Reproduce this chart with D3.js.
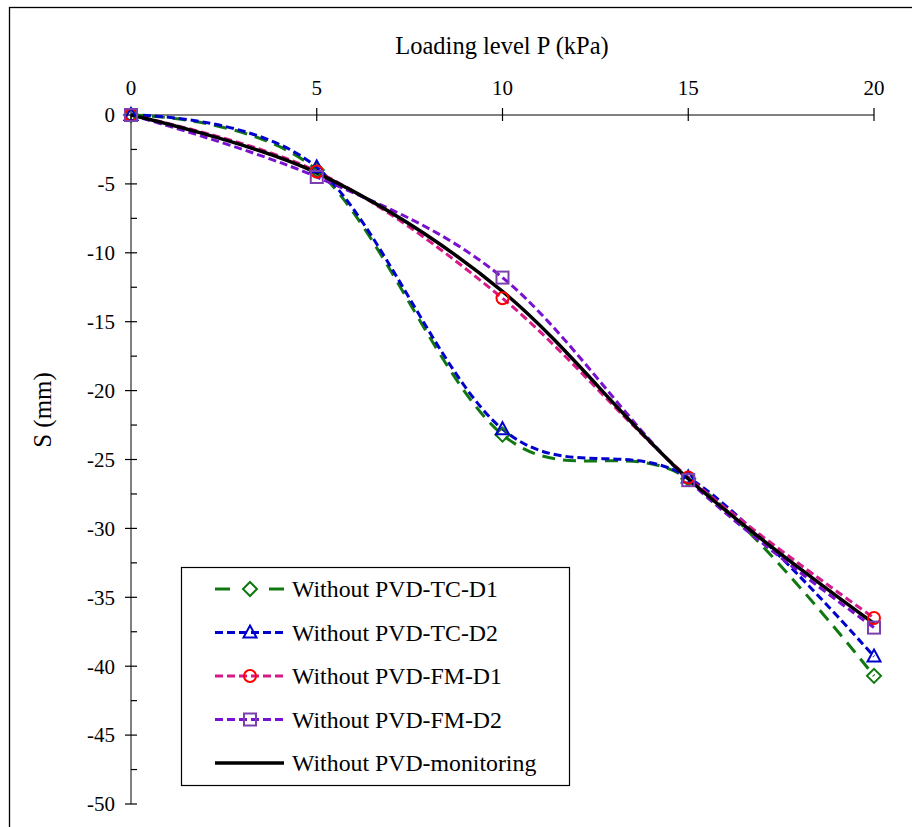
<!DOCTYPE html>
<html>
<head>
<meta charset="utf-8">
<script src="https://cdn.jsdelivr.net/npm/d3@7"></script>
<style>
  html, body { margin: 0; padding: 0; background: #fff; }
</style>
</head>
<body>
<div id="chart"></div>
<script>
// Loading level P (kPa) vs settlement S (mm)
var loads = [0, 5, 10, 15, 20];
var tcD1 = [0, -4.0, -23.2, -26.4, -40.7];
var tcD2 = [0, -3.8, -22.8, -26.3, -39.3];
var fmD1 = [0, -4.1, -13.3, -26.3, -36.5];
var fmD2 = [0, -4.5, -11.8, -26.5, -37.2];
var monitoring = [0, -4.2, -12.8, -26.4, -36.9];
var seriesNames = ["Without PVD-TC-D1", "Without PVD-TC-D2", "Without PVD-FM-D1",
                   "Without PVD-FM-D2", "Without PVD-monitoring"];
var xTicks = [0, 5, 10, 15, 20];
var yTicks = [0, -5, -10, -15, -20, -25, -30, -35, -40, -45, -50];

var FONT = "'Liberation Serif', Tinos, 'Times New Roman', Times, 'DejaVu Serif', 'Noto Serif', serif";

var W = 912, H = 827;
var svg = d3.select("#chart").append("svg").attr("width", W).attr("height", H)
    .style("font-family", FONT);

// outer frame
svg.append("rect").attr("x", 9.5).attr("y", 7.5).attr("width", 1000).attr("height", 1000)
    .attr("fill", "none").attr("stroke", "#000").attr("stroke-width", 1.3);

var x = d3.scaleLinear().domain([0, 20]).range([131, 874]);
var y = d3.scaleLinear().domain([0, -50]).range([115, 804]);

// y axis (gray line, black ticks)
var gy = svg.append("g").attr("transform", "translate(" + x(0) + ",0)");
gy.append("line").attr("y1", y(0)).attr("y2", y(-50)).attr("stroke", "#808080").attr("stroke-width", 2);
yTicks.forEach(function (t) {
    gy.append("line").attr("x1", -6).attr("x2", 6).attr("y1", y(t)).attr("y2", y(t))
        .attr("stroke", "#000").attr("stroke-width", 1.2);
    gy.append("text").attr("x", -16).attr("y", y(t)).attr("dy", "0.35em")
        .attr("text-anchor", "end").style("font-family", FONT).attr("font-size", 21).text(t);
    if (t > -50) {
        var m = t - 2.5;
        gy.append("line").attr("x1", 0).attr("x2", 6).attr("y1", y(m)).attr("y2", y(m))
            .attr("stroke", "#000").attr("stroke-width", 1.2);
    }
});

// x axis on top
var gx = svg.append("g").attr("transform", "translate(0," + y(0) + ")");
gx.append("line").attr("x1", x(0)).attr("x2", x(20)).attr("stroke", "#808080").attr("stroke-width", 2);
xTicks.forEach(function (t) {
    gx.append("line").attr("x1", x(t)).attr("x2", x(t)).attr("y1", -7).attr("y2", 6)
        .attr("stroke", "#000").attr("stroke-width", 1.2);
    gx.append("text").attr("x", x(t)).attr("y", -20).attr("text-anchor", "middle")
        .style("font-family", FONT).attr("font-size", 21).text(t);
});

svg.append("text").attr("x", 502).attr("y", 54).attr("text-anchor", "middle")
    .style("font-family", FONT).attr("font-size", 24.5).text("Loading level P (kPa)");
svg.append("text").attr("transform", "translate(51,410) rotate(-90)").attr("text-anchor", "middle")
    .style("font-family", FONT).attr("font-size", 25).text("S (mm)");

// series styles
var styles = [
    { vals: tcD1, line: "#117811", dash: "13,8", marker: "diamond", mcol: "#117811" },
    { vals: tcD2, line: "#0000cc", dash: "8,4", marker: "triangle", mcol: "#0000cc" },
    { vals: fmD1, line: "#d8198a", dash: "8,4", marker: "circle", mcol: "#ff0000" },
    { vals: fmD2, line: "#7a10d0", dash: "8,4", marker: "square", mcol: "#7b3fb0" },
    { vals: monitoring, line: "#000", dash: null, marker: null, mcol: null }
];

var line = d3.line()
    .x(function (d) { return x(d[0]); })
    .y(function (d) { return y(d[1]); })
    .curve(d3.curveCatmullRom.alpha(0));

function drawMarker(g, type, cx, cy, col) {
    if (type === "diamond") {
        g.append("path").attr("d", "M" + cx + "," + (cy - 7) + "L" + (cx + 7) + "," + cy +
            "L" + cx + "," + (cy + 7) + "L" + (cx - 7) + "," + cy + "Z")
            .attr("fill", "none").attr("stroke", col).attr("stroke-width", 2);
    } else if (type === "triangle") {
        g.append("path").attr("d", "M" + cx + "," + (cy - 7) + "L" + (cx + 6.5) + "," + (cy + 5) +
            "L" + (cx - 6.5) + "," + (cy + 5) + "Z")
            .attr("fill", "none").attr("stroke", col).attr("stroke-width", 2);
    } else if (type === "circle") {
        g.append("circle").attr("cx", cx).attr("cy", cy).attr("r", 6)
            .attr("fill", "none").attr("stroke", col).attr("stroke-width", 2);
    } else if (type === "square") {
        g.append("rect").attr("x", cx - 6).attr("y", cy - 6).attr("width", 12).attr("height", 12)
            .attr("fill", "none").attr("stroke", col).attr("stroke-width", 2);
    }
}

var plot = svg.append("g");
styles.forEach(function (s) {
    var pts = loads.map(function (l, i) { return [l, s.vals[i]]; });
    plot.append("path").datum(pts).attr("d", line)
        .attr("fill", "none").attr("stroke", s.line)
        .attr("stroke-width", s.dash ? 3 : 3.5)
        .attr("stroke-dasharray", s.dash);
});
styles.forEach(function (s) {
    if (!s.marker) return;
    loads.forEach(function (l, i) {
        drawMarker(plot, s.marker, x(l), y(s.vals[i]), s.mcol);
    });
});

// legend
var lg = svg.append("g");
lg.append("rect").attr("x", 181.5).attr("y", 567.5).attr("width", 388).attr("height", 218)
    .attr("fill", "#fff").attr("stroke", "#000").attr("stroke-width", 1.2);
styles.forEach(function (s, i) {
    var ly = 589 + i * 43.5;
    lg.append("line").attr("x1", 215).attr("x2", 284).attr("y1", ly).attr("y2", ly)
        .attr("stroke", s.line).attr("stroke-width", s.dash ? 3 : 3.5)
        .attr("stroke-dasharray", s.dash ? (s.marker === "diamond" ? "15,39,15" : s.dash) : null);
    if (s.marker) drawMarker(lg, s.marker, 250, ly, s.mcol);
    lg.append("text").attr("x", 292).attr("y", ly).attr("dy", "0.35em")
        .style("font-family", FONT).attr("font-size", 23.8).text(seriesNames[i]);
});
</script>
</body>
</html>
